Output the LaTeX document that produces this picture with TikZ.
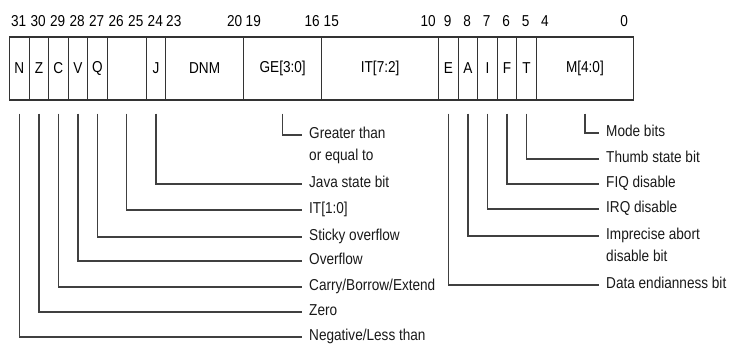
\documentclass[tikz,border=0pt]{standalone}
\usepackage{fontspec}
\setmainfont{Liberation Sans}[FakeStretch=0.86]
\begin{document}
\begin{tikzpicture}[x=1pt,y=-1pt,
  cellbox/.style={draw=black!80,line width=1.3pt,minimum height=63pt,inner sep=0pt,anchor=west},
  bitnum/.style={inner sep=0pt,text height=9pt,text depth=2pt},
  lbl/.style={inner sep=0pt,anchor=west,text height=9pt,text depth=2pt,text=black!90},
  conn/.style={draw=black!75,line width=1.2pt}]
\useasboundingbox (0,0) rectangle (730,345);
\fontsize{15.8}{18}\selectfont
% register cells
\foreach \nm/\hi/\lo/\tx in {N/31/31/N,Z/30/30/Z,C/29/29/C,V/28/28/V,Q/27/27/Q,R/26/25/{},J/24/24/J,DNM/23/20/DNM,GE/19/16/{GE[3:0]},IT/15/10/{IT[7:2]},E/9/9/E,A/8/8/A,I/7/7/I,F/6/6/F,T/5/5/T,M/4/0/{M[4:0]}}{
  \pgfmathsetmacro{\cw}{(\hi-\lo+1)*19.5}
  \pgfmathsetmacro{\xl}{9+(31-\hi)*19.5}
  \node[cellbox,minimum width=\cw pt] (\nm) at (\xl,68.5) {\tx};
}
% bit numbers
\foreach \b in {31,30,29,28,27,26,25,24,9,8,7,6,5}{
  \pgfmathsetmacro{\xc}{9+(31-\b)*19.5+9.75}
  \node[bitnum] (b\b) at (\xc,23) {\b};
}
\node[bitnum,anchor=west] (b23) at (166,23) {23};
\node[bitnum,anchor=east] (b20) at (242.5,23) {20};
\node[bitnum,anchor=west] (b19) at (245.5,23) {19};
\node[bitnum,anchor=east] (b16) at (320,23) {16};
\node[bitnum,anchor=west] (b15) at (323.5,23) {15};
\node[bitnum,anchor=east] (b10) at (436,23) {10};
\node[bitnum,anchor=west] (b4) at (541,23) {4};
\node[bitnum,anchor=east] (b0) at (628,23) {0};
% left labels
\node[lbl] (lGE) at (309,135) {Greater than};
\node[lbl] (lGE2) at (309,157) {or equal to};
\node[lbl] (lJ) at (309,184) {Java state bit};
\node[lbl] (lR) at (309,210) {IT[1:0]};
\node[lbl] (lQ) at (309,237) {Sticky overflow};
\node[lbl] (lV) at (309,261) {Overflow};
\node[lbl] (lC) at (309,287) {Carry/Borrow/Extend};
\node[lbl] (lZ) at (309,312) {Zero};
\node[lbl] (lN) at (309,337) {Negative/Less than};
% right labels
\node[lbl] (lM) at (606,133) {Mode bits};
\node[lbl] (lT) at (606,159) {Thumb state bit};
\node[lbl] (lF) at (606,184) {FIQ disable};
\node[lbl] (lI) at (606,209) {IRQ disable};
\node[lbl] (lA) at (606,236) {Imprecise abort};
\node[lbl] (lA2) at (606,258) {disable bit};
\node[lbl] (lE) at (606,285) {Data endianness bit};
% connectors
\foreach \c in {GE,J,R,Q,V,C,Z,N,M,T,F,I,A,E}{
  \draw[conn] ([yshift=-13pt]\c.south) |- ([xshift=-7pt]l\c.west);
}
\end{tikzpicture}
\end{document}
